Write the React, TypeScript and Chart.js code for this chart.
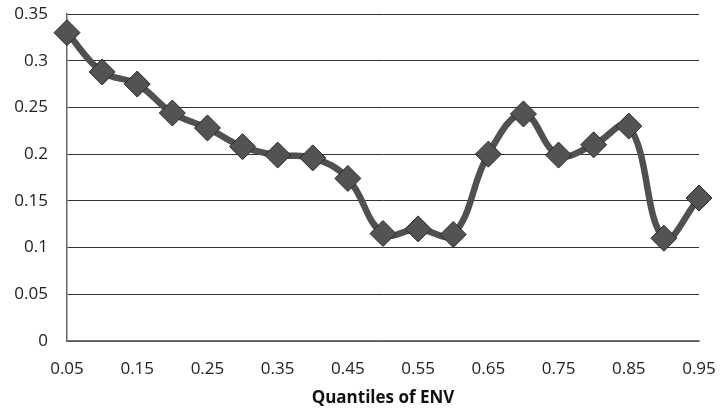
import React, { useEffect, useRef } from "react";
import { Chart, registerables } from "chart.js";

Chart.register(...registerables);

const categories = ["0.05","0.1","0.15","0.2","0.25","0.3","0.35","0.4","0.45","0.5","0.55","0.6","0.65","0.7","0.75","0.8","0.85","0.9","0.95"];
const values = [0.33,0.288,0.275,0.244,0.228,0.208,0.199,0.196,0.174,0.115,0.12,0.114,0.2,0.243,0.199,0.21,0.23,0.11,0.153];
const xTitle = "Quantiles of ENV";

export default function App() {
  const ref = useRef<HTMLCanvasElement>(null);
  useEffect(() => {
    document.body.style.margin = "0";
    const ctx = ref.current!;
    const chart = new Chart(ctx, {
      type: "line",
      data: {
        labels: categories,
        datasets: [
          {
            data: values,
            borderColor: "#505050",
            borderWidth: 6.5,
            tension: 0.4,
            pointStyle: "rectRot",
            pointRadius: 13,
            pointBackgroundColor: "#535353",
            pointBorderColor: "#2a2a2a",
            pointBorderWidth: 1,
          },
        ],
      },
      options: {
        animation: false,
        responsive: false,
        maintainAspectRatio: false,
        layout: { padding: { top: 14, right: 21, left: 0, bottom: 2 } },
        plugins: { legend: { display: false }, tooltip: { enabled: false } },
        scales: {
          x: {
            type: "category",
            offset: false,
            grid: { display: false, drawTicks: false },
            border: { display: true, color: "#777", width: 1.5 },
            ticks: {
              autoSkip: false,
              maxRotation: 0,
              padding: 18,
              color: "#222",
              font: { family: "Open Sans", size: 17 },
              callback: (_v: any, i: number) => (i % 2 === 0 ? categories[i] : ""),
            },
            title: {
              display: true,
              text: xTitle,
              color: "#111",
              font: { family: "Open Sans", size: 17, weight: "bold" },
              padding: { top: 6, bottom: 0 },
            },
            afterFit: (s: any) => {
              s.paddingLeft = 0;
              s.paddingRight = 0;
              s.height = 67;
            },
          },
          y: {
            min: 0,
            max: 0.35,
            grid: { color: "#333", lineWidth: 1, drawTicks: false },
            border: { display: true, color: "#666", width: 1.5 },
            ticks: {
              stepSize: 0.05,
              padding: 19,
              color: "#222",
              font: { family: "Open Sans", size: 17 },
              callback: (v: any) => String(Number(Number(v).toFixed(2))),
            },
            afterFit: (s: any) => {
              s.width = 67;
              s.paddingTop = 0;
              s.paddingBottom = 0;
            },
          },
        },
      },
    });
    return () => chart.destroy();
  }, []);
  return (
    <div style={{ width: 720, height: 410 }}>
      <canvas ref={ref} width={720} height={410} />
    </div>
  );
}
